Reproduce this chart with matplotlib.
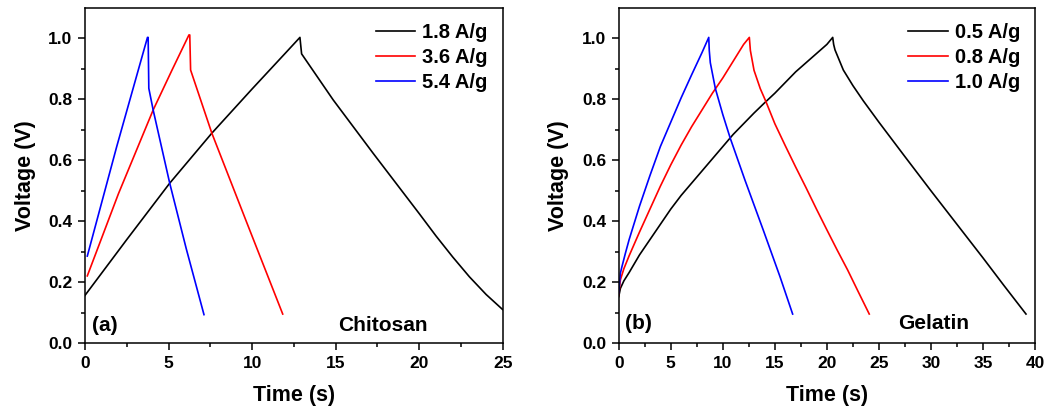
import matplotlib.pyplot as plt
import numpy as np

plt.rcParams['font.family'] = ['Liberation Sans', 'DejaVu Sans']
plt.rcParams['font.weight'] = 'bold'

# Panel (a): Chitosan
t_a_18 = [0.0, 2.5, 5.07, 7.59, 10.0, 12.0, 12.86, 12.96, 14.85, 17.24, 20.0, 21.0, 22.0,
          23.0, 24.0, 24.98]
v_a_18 = [0.157, 0.34, 0.525, 0.689, 0.834, 0.952, 1.003, 0.949, 0.798, 0.623, 0.425, 0.352,
          0.283, 0.218, 0.16, 0.111]
t_a_36 = [0.14, 2.0, 4.08, 5.2, 6.22, 6.27, 6.32, 7.59, 9.7, 11.83]
v_a_36 = [0.221, 0.49, 0.765, 0.895, 1.011, 1.011, 0.896, 0.689, 0.393, 0.096]
t_a_54 = [0.14, 1.9, 3.74, 3.78, 3.82, 4.08, 5.07, 6.06, 7.12]
v_a_54 = [0.286, 0.645, 1.003, 1.003, 0.836, 0.765, 0.525, 0.31, 0.094]

# Panel (b): Gelatin
t_b_05 = [0.0, 0.16, 0.5, 1, 2, 3, 4, 5, 6, 7, 8, 9, 10, 11, 12, 13, 14, 15, 16, 17, 18,
          19, 20, 20.56, 20.65, 20.78, 21.58, 22.5, 23.5, 25.0, 27.5, 30.0, 32.5, 35.0,
          37.0, 39.13]
v_b_05 = [0.153, 0.18, 0.205, 0.232, 0.29, 0.34, 0.39, 0.44, 0.485, 0.525, 0.565, 0.605,
          0.645, 0.685, 0.72, 0.755, 0.788, 0.82, 0.855, 0.89, 0.92, 0.95, 0.98, 1.003,
          0.98, 0.962, 0.896, 0.845, 0.795, 0.725, 0.612, 0.50, 0.39, 0.28, 0.19, 0.096]
t_b_08 = [0.0, 0.16, 0.5, 1, 2, 3, 4, 5, 6, 7, 8, 9, 10, 11, 12, 12.55, 12.65, 13.0,
          13.6, 14.15, 15, 16, 17, 18, 19, 20, 21, 22, 23, 24.07]
v_b_08 = [0.158, 0.208, 0.245, 0.287, 0.365, 0.44, 0.515, 0.585, 0.65, 0.71, 0.765, 0.82,
          0.87, 0.925, 0.98, 1.003, 0.96, 0.895, 0.835, 0.792, 0.72, 0.648, 0.578, 0.51,
          0.44, 0.372, 0.305, 0.24, 0.17, 0.096]
t_b_10 = [0.0, 0.16, 0.3, 0.64, 1, 2, 3, 4, 5, 6, 7, 8, 8.65, 8.7, 8.8, 9.28, 10.0, 10.72,
          12.13, 13.89, 15.5, 16.71]
v_b_10 = [0.164, 0.23, 0.25, 0.295, 0.34, 0.45, 0.55, 0.645, 0.725, 0.805, 0.88, 0.953,
          1.003, 0.96, 0.92, 0.836, 0.75, 0.672, 0.535, 0.371, 0.218, 0.096]

fig = plt.figure(figsize=(10.58, 4.11), dpi=100)
ax1 = fig.add_axes([0.0803, 0.1647, 0.395, 0.8163])
ax2 = fig.add_axes([0.5848, 0.1647, 0.3935, 0.8163])

def style(ax, xmax):
    ax.set_xlim(0, xmax)
    ax.set_ylim(0, 1.1)
    ax.set_xticks(np.arange(0, xmax + 0.1, 5))
    ax.set_xticks(np.arange(2.5, xmax, 5), minor=True)
    ax.set_yticks(np.arange(0, 1.01, 0.2))
    ax.set_yticks(np.arange(0.1, 1.1, 0.2), minor=True)
    ax.tick_params(which='major', direction='out', length=5, width=1.1, labelsize=12.5, pad=4)
    ax.tick_params(which='minor', direction='out', length=3, width=1.1)
    ax.set_xlabel('Time (s)', fontsize=15.5, fontweight='bold', labelpad=10)
    ax.set_ylabel('Voltage (V)', fontsize=15.5, fontweight='bold', labelpad=9)
    ax.yaxis.set_major_formatter(plt.FormatStrFormatter('%.1f'))
    for s in ax.spines.values():
        s.set_linewidth(1.1)
    ax.legend(loc='upper right', frameon=False, fontsize=14.5, handlelength=1.95,
              handletextpad=0.35, labelspacing=0.3, borderaxespad=0.35)

ax1.plot(t_a_18, v_a_18, color='black', lw=1.2, label='1.8 A/g')
ax1.plot(t_a_36, v_a_36, color='red', lw=1.2, label='3.6 A/g')
ax1.plot(t_a_54, v_a_54, color='blue', lw=1.2, label='5.4 A/g')
style(ax1, 25)
ax1.text(0.4, 0.06, '(a)', fontsize=15, fontweight='bold', va='center')
ax1.text(15.15, 0.06, 'Chitosan', fontsize=15, fontweight='bold', va='center')

ax2.plot(t_b_05, v_b_05, color='black', lw=1.2, label='0.5 A/g')
ax2.plot(t_b_08, v_b_08, color='red', lw=1.2, label='0.8 A/g')
ax2.plot(t_b_10, v_b_10, color='blue', lw=1.2, label='1.0 A/g')
style(ax2, 40)
ax2.text(0.58, 0.066, '(b)', fontsize=15, fontweight='bold', va='center')
ax2.text(26.86, 0.066, 'Gelatin', fontsize=15, fontweight='bold', va='center')

plt.savefig('out.png', dpi=100)
